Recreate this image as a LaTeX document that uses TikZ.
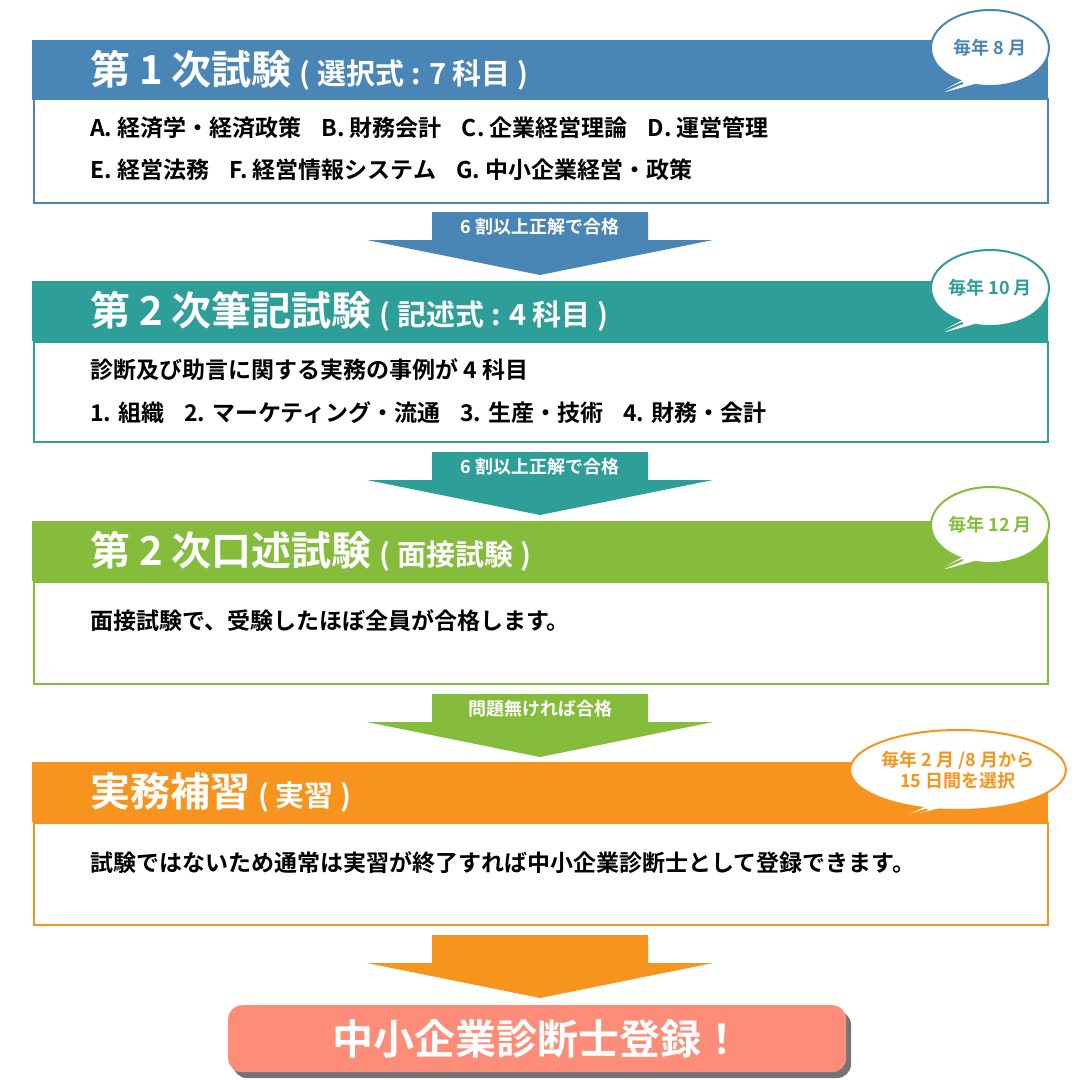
\documentclass[tikz,border=0pt]{standalone}
\usepackage{fontspec}
\setmainfont{Noto Sans CJK JP}[BoldFont={Noto Sans CJK JP Bold}]
\usetikzlibrary{calc}
\usetikzlibrary{shapes.geometric}
\definecolor{cblue}{HTML}{4A86B5}
\definecolor{cteal}{HTML}{2E9E98}
\definecolor{cgreen}{HTML}{86BC3B}
\definecolor{corange}{HTML}{F7941D}
\definecolor{csalmon}{HTML}{FD8C78}
\tikzset{
  header/.style = {fill=#1, draw=none, minimum width=1016pt, minimum height=60pt, inner sep=0pt, anchor=north west},
  body/.style = {draw=#1, line width=2pt, fill=white, minimum width=1014pt, inner sep=0pt, anchor=north west},
  title/.style = {anchor=west, text=white, font=\bfseries\fontsize{40}{40}\selectfont, inner sep=0pt},
  line/.style = {anchor=west, font=\bfseries\fontsize{23}{23}\selectfont, inner sep=0pt},
  bubble/.style = {ellipse, draw=#1, line width=2pt, fill=white, text=#1, font=\bfseries\fontsize{18}{21}\selectfont, align=center, inner sep=0pt},
  stemtext/.style = {text=white, font=\bfseries\fontsize{18}{18}\selectfont, inner sep=0pt}
}
\newcommand{\sub}[1]{{\fontsize{29}{29}\selectfont #1}}
\newcommand{\passarrow}[4]{%
  % #1: colour, #2: top y, #3: name, #4: text
  \fill[#1] (432,#2) -- (648,#2) -- (648,#2+28) -- (713,#2+28) -- (540,#2+63)
    -- (367,#2+28) -- (432,#2+28) -- cycle;
  \node[stemtext] (#3) at (540,#2+15) {#4};
}
\newcommand{\callout}[6]{%
  % #1: colour, #2: centre, #3: width, #4: height, #5: name, #6: text
  \node[bubble={#1}, minimum width=#3, minimum height=#4] (#5) at (#2) {#6};
  \coordinate (#5 tip) at ($(#5.center)+(-55,47)$);
  \fill[white] ($(#5.232)!0.15!(#5.center)$) -- (#5 tip) -- ($(#5.262)!0.15!(#5.center)$) -- cycle;
  \draw[#1, line width=2pt] (#5.232) -- (#5 tip) -- (#5.262);
}
\begin{document}
\begin{tikzpicture}[x=1pt,y=-1pt]
  \useasboundingbox[fill=white] (0,0) rectangle (1080,1080);

  % Stage 1
  \node[header={cblue}] (head1) at (32,40) {};
  \node[body={cblue}, minimum height=104pt] (body1) at (33,98) {};
  \node[title] (title1) at (90,70) {第 1 次試験\hspace{8pt}\sub{( 選択式 : 7 科目 )}};
  \node[line] (line1a) at (90,128) {A. 経済学・経済政策\hspace{20pt}B. 財務会計\hspace{20pt}C. 企業経営理論\hspace{20pt}D. 運営管理};
  \node[line] (line1b) at (90,170) {E. 経営法務\hspace{20pt}F. 経営情報システム\hspace{20pt}G. 中小企業経営・政策};
  \callout{cblue}{990,48}{118pt}{76pt}{bub1}{毎年 8 月}

  \passarrow{cblue}{212}{pass1}{6 割以上正解で合格}

  % Stage 2
  \node[header={cteal}] (head2) at (32,281) {};
  \node[body={cteal}, minimum height=100pt] (body2) at (33,341) {};
  \node[title] (title2) at (90,311) {第 2 次筆記試験\hspace{8pt}\sub{( 記述式 : 4 科目 )}};
  \node[line] (line2a) at (90,370) {診断及び助言に関する実務の事例が 4 科目};
  \node[line] (line2b) at (90,413) {1. 組織\hspace{20pt}2. マーケティング・流通\hspace{20pt}3. 生産・技術\hspace{20pt}4. 財務・会計};
  \callout{cteal}{990,288}{118pt}{76pt}{bub2}{毎年 10 月}

  \passarrow{cteal}{452}{pass2}{6 割以上正解で合格}

  % Stage 3
  \node[header={cgreen}] (head3) at (32,521) {};
  \node[body={cgreen}, minimum height=102pt] (body3) at (33,581) {};
  \node[title] (title3) at (90,551) {第 2 次口述試験\hspace{8pt}\sub{( 面接試験 )}};
  \node[line] (line3a) at (90,621) {面接試験で、受験したほぼ全員が合格します。};
  \callout{cgreen}{990,525}{118pt}{76pt}{bub3}{毎年 12 月}

  \passarrow{cgreen}{694}{pass3}{問題無ければ合格}

  % Stage 4
  \node[header={corange}] (head4) at (32,762) {};
  \node[body={corange}, minimum height=102pt] (body4) at (33,822) {};
  \node[title] (title4) at (90,792) {実務補習\hspace{8pt}\sub{( 実習 )}};
  \node[line] (line4a) at (90,863) {試験ではないため通常は実習が終了すれば中小企業診断士として登録できます。};
  \callout{corange}{958,770}{206pt}{80pt}{bub4}{毎年 2 月 /8 月から\\15 日間を選択}

  \passarrow{corange}{935}{pass4}{}

  % Goal
  \fill[black!55, rounded corners=14pt] (233,1011) rectangle (851,1078);
  \node[fill=csalmon, rounded corners=14pt, minimum width=618pt, minimum height=67pt, anchor=north west, text=white, font=\bfseries\fontsize{41}{41}\selectfont] (goal) at (228,1005) {中小企業診断士登録！};
\end{tikzpicture}
\end{document}
